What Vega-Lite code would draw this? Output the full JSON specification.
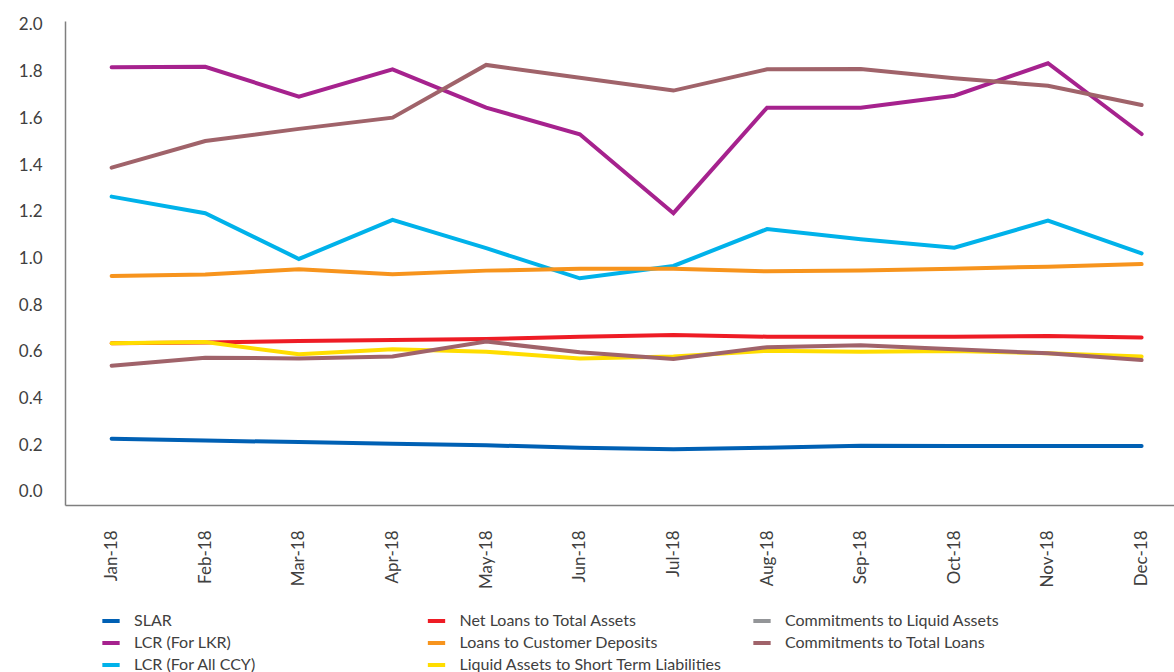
{
  "$schema": "https://vega.github.io/schema/vega-lite/v6.json",
  "width": 1109,
  "height": 484,
  "autosize": {"type": "none"},
  "padding": {"left": 65, "top": 21, "right": 0, "bottom": 167},
  "background": "white",
  "config": {"font": "Lato", "view": {"stroke": null}},
  "data": {"values": [
    {"month": "Jan-18", "series": "SLAR", "value": 0.228},
    {"month": "Feb-18", "series": "SLAR", "value": 0.220},
    {"month": "Mar-18", "series": "SLAR", "value": 0.214},
    {"month": "Apr-18", "series": "SLAR", "value": 0.207},
    {"month": "May-18", "series": "SLAR", "value": 0.200},
    {"month": "Jun-18", "series": "SLAR", "value": 0.190},
    {"month": "Jul-18", "series": "SLAR", "value": 0.183},
    {"month": "Aug-18", "series": "SLAR", "value": 0.190},
    {"month": "Sep-18", "series": "SLAR", "value": 0.198},
    {"month": "Oct-18", "series": "SLAR", "value": 0.197},
    {"month": "Nov-18", "series": "SLAR", "value": 0.197},
    {"month": "Dec-18", "series": "SLAR", "value": 0.197},
    {"month": "Jan-18", "series": "LCR (For LKR)", "value": 1.819},
    {"month": "Feb-18", "series": "LCR (For LKR)", "value": 1.821},
    {"month": "Mar-18", "series": "LCR (For LKR)", "value": 1.693},
    {"month": "Apr-18", "series": "LCR (For LKR)", "value": 1.810},
    {"month": "May-18", "series": "LCR (For LKR)", "value": 1.646},
    {"month": "Jun-18", "series": "LCR (For LKR)", "value": 1.532},
    {"month": "Jul-18", "series": "LCR (For LKR)", "value": 1.194},
    {"month": "Aug-18", "series": "LCR (For LKR)", "value": 1.646},
    {"month": "Sep-18", "series": "LCR (For LKR)", "value": 1.646},
    {"month": "Oct-18", "series": "LCR (For LKR)", "value": 1.697},
    {"month": "Nov-18", "series": "LCR (For LKR)", "value": 1.836},
    {"month": "Dec-18", "series": "LCR (For LKR)", "value": 1.533},
    {"month": "Jan-18", "series": "LCR (For All CCY)", "value": 1.265},
    {"month": "Feb-18", "series": "LCR (For All CCY)", "value": 1.194},
    {"month": "Mar-18", "series": "LCR (For All CCY)", "value": 0.998},
    {"month": "Apr-18", "series": "LCR (For All CCY)", "value": 1.165},
    {"month": "May-18", "series": "LCR (For All CCY)", "value": 1.044},
    {"month": "Jun-18", "series": "LCR (For All CCY)", "value": 0.915},
    {"month": "Jul-18", "series": "LCR (For All CCY)", "value": 0.968},
    {"month": "Aug-18", "series": "LCR (For All CCY)", "value": 1.126},
    {"month": "Sep-18", "series": "LCR (For All CCY)", "value": 1.082},
    {"month": "Oct-18", "series": "LCR (For All CCY)", "value": 1.046},
    {"month": "Nov-18", "series": "LCR (For All CCY)", "value": 1.162},
    {"month": "Dec-18", "series": "LCR (For All CCY)", "value": 1.022},
    {"month": "Jan-18", "series": "Net Loans to Total Assets", "value": 0.637},
    {"month": "Feb-18", "series": "Net Loans to Total Assets", "value": 0.640},
    {"month": "Mar-18", "series": "Net Loans to Total Assets", "value": 0.647},
    {"month": "Apr-18", "series": "Net Loans to Total Assets", "value": 0.651},
    {"month": "May-18", "series": "Net Loans to Total Assets", "value": 0.655},
    {"month": "Jun-18", "series": "Net Loans to Total Assets", "value": 0.665},
    {"month": "Jul-18", "series": "Net Loans to Total Assets", "value": 0.672},
    {"month": "Aug-18", "series": "Net Loans to Total Assets", "value": 0.665},
    {"month": "Sep-18", "series": "Net Loans to Total Assets", "value": 0.665},
    {"month": "Oct-18", "series": "Net Loans to Total Assets", "value": 0.665},
    {"month": "Nov-18", "series": "Net Loans to Total Assets", "value": 0.668},
    {"month": "Dec-18", "series": "Net Loans to Total Assets", "value": 0.662},
    {"month": "Jan-18", "series": "Loans to Customer Deposits", "value": 0.925},
    {"month": "Feb-18", "series": "Loans to Customer Deposits", "value": 0.931},
    {"month": "Mar-18", "series": "Loans to Customer Deposits", "value": 0.954},
    {"month": "Apr-18", "series": "Loans to Customer Deposits", "value": 0.932},
    {"month": "May-18", "series": "Loans to Customer Deposits", "value": 0.948},
    {"month": "Jun-18", "series": "Loans to Customer Deposits", "value": 0.956},
    {"month": "Jul-18", "series": "Loans to Customer Deposits", "value": 0.956},
    {"month": "Aug-18", "series": "Loans to Customer Deposits", "value": 0.945},
    {"month": "Sep-18", "series": "Loans to Customer Deposits", "value": 0.948},
    {"month": "Oct-18", "series": "Loans to Customer Deposits", "value": 0.956},
    {"month": "Nov-18", "series": "Loans to Customer Deposits", "value": 0.965},
    {"month": "Dec-18", "series": "Loans to Customer Deposits", "value": 0.976},
    {"month": "Jan-18", "series": "Liquid Assets to Short Term Liabilities", "value": 0.637},
    {"month": "Feb-18", "series": "Liquid Assets to Short Term Liabilities", "value": 0.642},
    {"month": "Mar-18", "series": "Liquid Assets to Short Term Liabilities", "value": 0.590},
    {"month": "Apr-18", "series": "Liquid Assets to Short Term Liabilities", "value": 0.611},
    {"month": "May-18", "series": "Liquid Assets to Short Term Liabilities", "value": 0.601},
    {"month": "Jun-18", "series": "Liquid Assets to Short Term Liabilities", "value": 0.572},
    {"month": "Jul-18", "series": "Liquid Assets to Short Term Liabilities", "value": 0.580},
    {"month": "Aug-18", "series": "Liquid Assets to Short Term Liabilities", "value": 0.605},
    {"month": "Sep-18", "series": "Liquid Assets to Short Term Liabilities", "value": 0.601},
    {"month": "Oct-18", "series": "Liquid Assets to Short Term Liabilities", "value": 0.604},
    {"month": "Nov-18", "series": "Liquid Assets to Short Term Liabilities", "value": 0.594},
    {"month": "Dec-18", "series": "Liquid Assets to Short Term Liabilities", "value": 0.580},
    {"month": "Jan-18", "series": "Commitments to Liquid Assets", "value": 0.541},
    {"month": "Feb-18", "series": "Commitments to Liquid Assets", "value": 0.575},
    {"month": "Mar-18", "series": "Commitments to Liquid Assets", "value": 0.572},
    {"month": "Apr-18", "series": "Commitments to Liquid Assets", "value": 0.580},
    {"month": "May-18", "series": "Commitments to Liquid Assets", "value": 0.644},
    {"month": "Jun-18", "series": "Commitments to Liquid Assets", "value": 0.598},
    {"month": "Jul-18", "series": "Commitments to Liquid Assets", "value": 0.570},
    {"month": "Aug-18", "series": "Commitments to Liquid Assets", "value": 0.620},
    {"month": "Sep-18", "series": "Commitments to Liquid Assets", "value": 0.628},
    {"month": "Oct-18", "series": "Commitments to Liquid Assets", "value": 0.611},
    {"month": "Nov-18", "series": "Commitments to Liquid Assets", "value": 0.594},
    {"month": "Dec-18", "series": "Commitments to Liquid Assets", "value": 0.565},
    {"month": "Jan-18", "series": "Commitments to Total Loans", "value": 1.389},
    {"month": "Feb-18", "series": "Commitments to Total Loans", "value": 1.503},
    {"month": "Mar-18", "series": "Commitments to Total Loans", "value": 1.555},
    {"month": "Apr-18", "series": "Commitments to Total Loans", "value": 1.603},
    {"month": "May-18", "series": "Commitments to Total Loans", "value": 1.829},
    {"month": "Jun-18", "series": "Commitments to Total Loans", "value": 1.774},
    {"month": "Jul-18", "series": "Commitments to Total Loans", "value": 1.719},
    {"month": "Aug-18", "series": "Commitments to Total Loans", "value": 1.810},
    {"month": "Sep-18", "series": "Commitments to Total Loans", "value": 1.811},
    {"month": "Oct-18", "series": "Commitments to Total Loans", "value": 1.772},
    {"month": "Nov-18", "series": "Commitments to Total Loans", "value": 1.740},
    {"month": "Dec-18", "series": "Commitments to Total Loans", "value": 1.657}
  ]},
  "encoding": {
    "x": {
      "field": "month",
      "type": "ordinal",
      "sort": ["Jan-18", "Feb-18", "Mar-18", "Apr-18", "May-18", "Jun-18", "Jul-18", "Aug-18", "Sep-18", "Oct-18", "Nov-18", "Dec-18"],
      "scale": {"type": "point", "padding": 0.422, "align": 0.59},
      "axis": {
        "title": null,
        "labelAngle": -90,
        "labelAlign": "right",
        "labelBaseline": "middle",
        "labelFontSize": 17,
        "labelColor": "#404040",
        "labelPadding": 25,
        "ticks": false,
        "tickSize": 0,
        "grid": false,
        "domainColor": "#7f7f7f",
        "domainWidth": 1.5
      }
    },
    "y": {
      "field": "value",
      "type": "quantitative",
      "scale": {"domain": [-0.0557, 2.017], "nice": false, "zero": false},
      "axis": {
        "title": null,
        "values": [0, 0.2, 0.4, 0.6, 0.8, 1.0, 1.2, 1.4, 1.6, 1.8, 2.0],
        "format": ".1f",
        "labelFontSize": 17,
        "labelColor": "#404040",
        "labelPadding": 23,
        "ticks": false,
        "tickSize": 0,
        "grid": false,
        "domainColor": "#7f7f7f",
        "domainWidth": 1.5
      }
    }
  },
  "layer": [
    {
      "transform": [{"filter": "datum.series !== 'Commitments to Liquid Assets'"}],
      "mark": {"type": "line", "strokeWidth": 4, "strokeCap": "round"},
      "encoding": {
        "color": {
          "field": "series",
          "type": "nominal",
          "scale": {
            "domain": ["SLAR", "LCR (For LKR)", "LCR (For All CCY)", "Net Loans to Total Assets", "Loans to Customer Deposits", "Liquid Assets to Short Term Liabilities", "Commitments to Liquid Assets", "Commitments to Total Loans"],
            "range": ["#0060B4", "#A6228E", "#00B2EA", "#EE1C25", "#F7941D", "#FFDD00", "#939598", "#A0636A"]
          },
          "legend": {
            "orient": "none",
            "legendX": 35,
            "legendY": 589,
            "columns": 3,
            "title": null,
            "padding": 0,
            "symbolType": "stroke",
            "symbolStrokeWidth": 4,
            "symbolSize": 300,
            "labelFontSize": 16,
            "labelColor": "#404040",
            "labelOffset": 12,
            "rowPadding": 3,
            "columnPadding": 22.5,
            "gridAlign": "all",
            "labelLimit": 400
          }
        }
      }
    },
    {
      "transform": [{"filter": "datum.series === 'Commitments to Liquid Assets'"}],
      "mark": {"type": "line", "strokeWidth": 4, "strokeCap": "round", "color": "#A0636A"},
      "encoding": {}
    }
  ]
}
